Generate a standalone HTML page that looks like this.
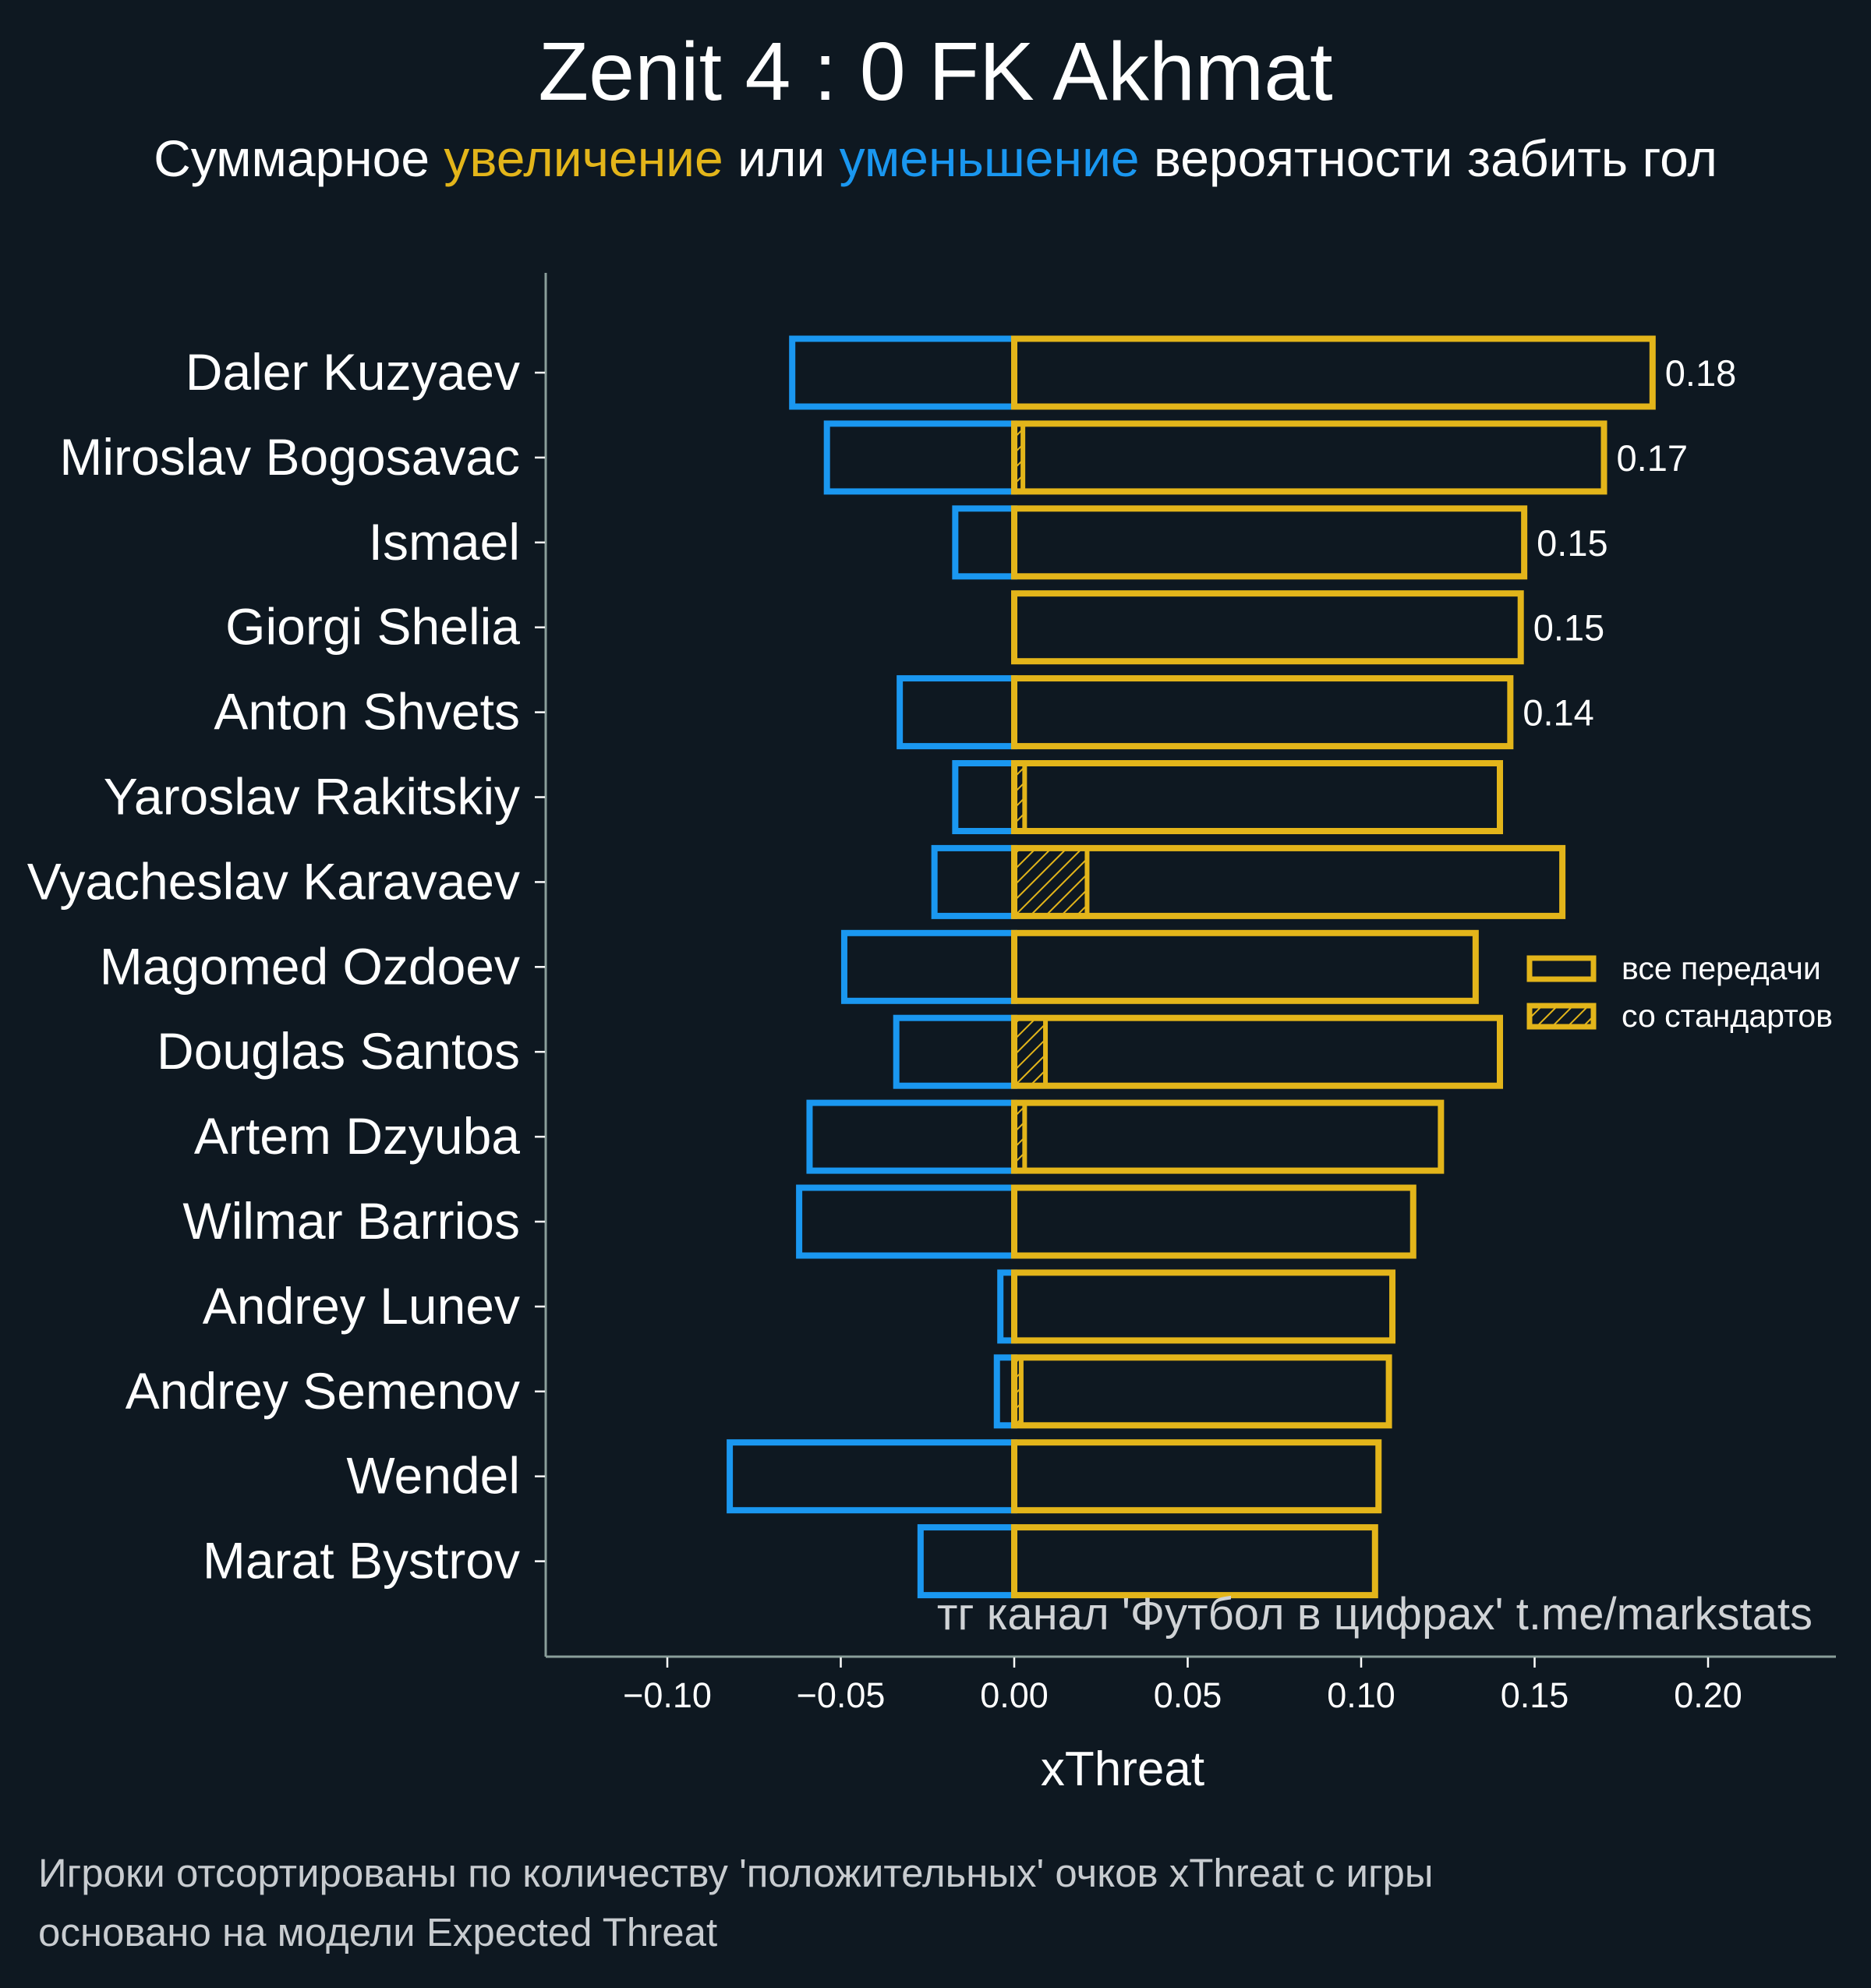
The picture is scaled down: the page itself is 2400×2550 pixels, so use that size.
<!DOCTYPE html>
<html><head><meta charset="utf-8">
<style>
html,body{margin:0;padding:0;background:#0e1821;}
svg{display:block;font-family:"Liberation Sans","DejaVu Sans",sans-serif;}
</style></head>
<body>
<svg id="chart" width="2400" height="2550" viewBox="0 0 2400 2550" xmlns="http://www.w3.org/2000/svg">
<defs>
<pattern id="hatch" patternUnits="userSpaceOnUse" width="14" height="14" patternTransform="rotate(45)">
<line x1="0" y1="0" x2="0" y2="14" stroke="#e3b51a" stroke-width="4"/>
</pattern>
</defs>
<rect width="2400" height="2550" fill="#0e1821"/>
<text x="1200" y="128" text-anchor="middle" font-size="106" fill="#ffffff">Zenit 4 : 0 FK Akhmat</text>
<text x="1200" y="226" text-anchor="middle" font-size="66" fill="#ffffff">Суммарное <tspan fill="#e3b51a">увеличение</tspan> или <tspan fill="#1a97f0">уменьшение</tspan> вероятности забить гол</text>
<g id="plot"></g>
<line x1="700" y1="350" x2="700" y2="2125" stroke="#8a9e9a" stroke-width="3"/>
<line x1="700" y1="2125" x2="2355" y2="2125" stroke="#8a9e9a" stroke-width="3"/>
<text x="1440" y="2290" text-anchor="middle" font-size="62" fill="#ffffff">xThreat</text>
<text x="2325" y="2090" text-anchor="end" font-size="58" fill="#d0d3d6">тг канал 'Футбол в цифрах'  t.me/markstats</text>
<g>
<rect x="1962" y="1229" width="82" height="27" fill="none" stroke="#e3b51a" stroke-width="7"/>
<text x="2080" y="1256" font-size="41" fill="#ffffff">все передачи</text>
<rect x="1962" y="1290" width="82" height="27" fill="url(#hatch)" stroke="#e3b51a" stroke-width="7"/>
<text x="2080" y="1317" font-size="41" fill="#ffffff">со стандартов</text>
</g>
<text x="49" y="2420" font-size="51" fill="#c8ccd0">Игроки отсортированы по количеству 'положительных' очков xThreat с игры</text>
<text x="49" y="2496" font-size="51" fill="#c8ccd0">основано на модели Expected Threat</text>
</svg>
<script>
const players = ["Daler Kuzyaev","Miroslav Bogosavac","Ismael","Giorgi Shelia","Anton Shvets","Yaroslav Rakitskiy","Vyacheslav Karavaev","Magomed Ozdoev","Douglas Santos","Artem Dzyuba","Wilmar Barrios","Andrey Lunev","Andrey Semenov","Wendel","Marat Bystrov"];
const positive = [0.184,0.170,0.147,0.146,0.143,0.140,0.158,0.133,0.140,0.123,0.115,0.109,0.108,0.105,0.104];
const negative = [-0.064,-0.054,-0.017,0,-0.033,-0.017,-0.023,-0.049,-0.034,-0.059,-0.062,-0.004,-0.005,-0.082,-0.027];
const setPieces = [0,0.0025,0,0,0,0.003,0.021,0,0.009,0.003,0,0,0.002,0,0];
const labeledCount = 5;
const xTicks = [-0.10,-0.05,0.00,0.05,0.10,0.15,0.20];

const NS = "http://www.w3.org/2000/svg";
const plot = document.getElementById("plot");
const svg = document.getElementById("chart");
function x(v){ return 1301 + v * 4450; }
function y(i){ return 478 + i * 108.9; }
const barH = 87;
function mk(tag, attrs, parent){
  const el = document.createElementNS(NS, tag);
  for (const k in attrs) el.setAttribute(k, attrs[k]);
  (parent || plot).appendChild(el);
  return el;
}
xTicks.forEach((t) => {
  const tk = mk("line", {x1:x(t), x2:x(t), y1:2126, y2:2139, stroke:"#ffffff", "stroke-width":2.5}, svg);
  
  
  const lb = mk("text", {x:x(t), y:2190, "text-anchor":"middle", "font-size":45, fill:"#ffffff"}, svg);
  lb.textContent = t.toFixed(2).replace("-", "\u2212");
  
  
});
players.forEach((p, i) => {
  const cy = y(i);
  const tk = mk("line", {x1:686, x2:699, y1:cy, y2:cy, stroke:"#ffffff", "stroke-width":2.5}, svg);
  
  
  const lb = mk("text", {x:667, y:cy + 22, "text-anchor":"end", "font-size":66, fill:"#ffffff"}, svg);
  lb.textContent = p;
  
  
  if (negative[i] < 0) {
    const nb = mk("rect", {x:x(negative[i]), y:cy - barH/2, width:x(0) - x(negative[i]), height:barH, fill:"none", stroke:"#1a97f0", "stroke-width":8});
    
    
  }
  if (setPieces[i] > 0) {
    const sb = mk("rect", {x:x(0), y:cy - barH/2, width:x(setPieces[i]) - x(0), height:barH, fill:"url(#hatch)", stroke:"#e3b51a", "stroke-width":6});
    
    
  }
  const pb = mk("rect", {x:x(0), y:cy - barH/2, width:x(positive[i]) - x(0), height:barH, fill:"none", stroke:"#e3b51a", "stroke-width":8});
  
  
  if (i < labeledCount) {
    const vl = mk("text", {x:x(positive[i]) + 16, y:cy + 17, "font-size":47, fill:"#ffffff"});
    vl.textContent = positive[i].toFixed(2);
    
    
  }
});
</script>
</body></html>
